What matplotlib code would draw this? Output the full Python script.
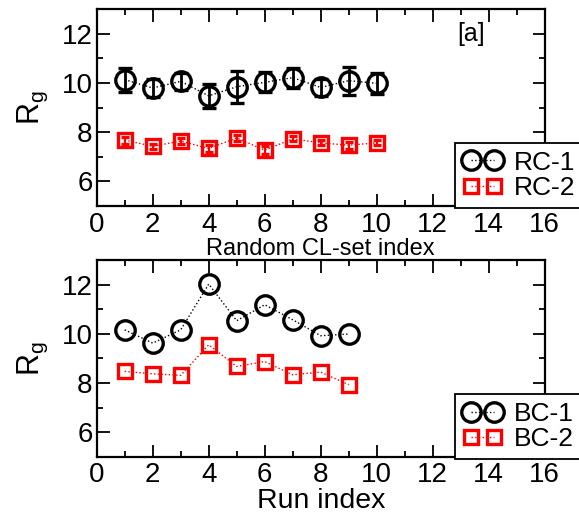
import matplotlib
matplotlib.use("Agg")
import matplotlib.pyplot as plt
from matplotlib.ticker import MultipleLocator
from matplotlib.lines import Line2D

plt.rcParams['font.family'] = ['Liberation Sans', 'DejaVu Sans']

# ---- data ----
rc_x = [1, 2, 3, 4, 5, 6, 7, 8, 9, 10]
rc1_y = [10.14, 9.80, 10.07, 9.48, 9.85, 10.03, 10.22, 9.82, 10.10, 9.99]
rc1_err = [0.49, 0.37, 0.34, 0.50, 0.65, 0.40, 0.41, 0.36, 0.57, 0.42]
rc2_y = [7.68, 7.43, 7.64, 7.34, 7.77, 7.27, 7.73, 7.57, 7.47, 7.57]
rc2_err = [0.14, 0.10, 0.12, 0.15, 0.12, 0.17, 0.10, 0.10, 0.15, 0.10]

run_x = [1, 2, 3, 4, 5, 6, 7, 8, 9]
bc1_y = [10.16, 9.62, 10.16, 12.02, 10.53, 11.18, 10.57, 9.92, 9.99]
bc2_y = [8.47, 8.37, 8.31, 9.55, 8.67, 8.87, 8.33, 8.44, 7.93]

xticks = [0, 2, 4, 6, 8, 10, 12, 14, 16]
yticks = [6, 8, 10, 12]

W, H = 579, 518
fig = plt.figure(figsize=(W / 100, H / 100), dpi=100)

def px_axes(l, t, r, b):
    return fig.add_axes([l / W, 1 - b / H, (r - l) / W, (b - t) / H])

ax1 = px_axes(96.7, 9.3, 544.7, 206)
ax2 = px_axes(96.7, 260, 544.7, 456.7)

circ = dict(marker='o', ms=14, mew=2.4, mfc='none')
sq = dict(marker='s', ms=10.5, mew=2.4, mfc='none')

# top panel
ax1.errorbar(rc_x, rc1_y, yerr=rc1_err, color='black', ls=':', lw=1,
             elinewidth=2.0, capsize=5, capthick=2.2, **circ)
ax1.errorbar(rc_x, rc2_y, yerr=rc2_err, color='red', ls=':', lw=1,
             elinewidth=1.5, capsize=3.2, capthick=1.5, **sq)

# bottom panel
ax2.plot(run_x, bc1_y, color='black', ls=':', lw=1, **circ)
ax2.plot(run_x, bc2_y, color='red', ls=':', lw=1, **sq)

for ax in (ax1, ax2):
    ax.set_xlim(0, 16)
    ax.set_ylim(5, 13)
    ax.set_xticks(xticks)
    ax.set_yticks(yticks)
    ax.xaxis.set_minor_locator(MultipleLocator(1))
    ax.yaxis.set_minor_locator(MultipleLocator(1))
    ax.tick_params(which='both', direction='in', top=True, right=True,
                   width=1.3, labelsize=20)
    ax.tick_params(which='major', length=9)
    ax.tick_params(which='minor', length=4.5)
    ax.tick_params(axis='x', pad=4)
    ax.tick_params(axis='y', pad=3)
    for s in ax.spines.values():
        s.set_linewidth(1.6)
    ax.set_ylabel(r'R$_\mathregular{g}$', fontsize=22, labelpad=8)

ax1.set_xlabel('Random CL-set index', fontsize=17, labelpad=0)
ax2.set_xlabel('Run index', fontsize=20.5, labelpad=-0.5)
ax1.text(470.7 / W, 1 - 34 / H, '[a]', transform=fig.transFigure,
         fontsize=18, ha='center', va='center')

def handles(n1, n2):
    h1 = Line2D([], [], color='black', ls=':', lw=1, **circ)
    h2 = Line2D([], [], color='red', ls=':', lw=1, **sq)
    return [h1, h2], [n1, n2]

leg_kw = dict(loc='upper left', numpoints=2, fontsize=19, frameon=True,
              fancybox=False, framealpha=1, edgecolor='black',
              handlelength=1.47, handletextpad=0.45, borderpad=0.3,
              labelspacing=0.05, borderaxespad=0, bbox_transform=fig.transFigure)
hs, ls_ = handles('RC-1', 'RC-2')
l1 = ax1.legend(hs, ls_, bbox_to_anchor=(455 / W, 1 - 142.7 / H), **leg_kw)
l1.get_frame().set_linewidth(1.3)
hs, ls_ = handles('BC-1', 'BC-2')
l2 = ax2.legend(hs, ls_, bbox_to_anchor=(455 / W, 1 - 394 / H), **leg_kw)
l2.get_frame().set_linewidth(1.3)

fig.savefig('out.png', dpi=100)
